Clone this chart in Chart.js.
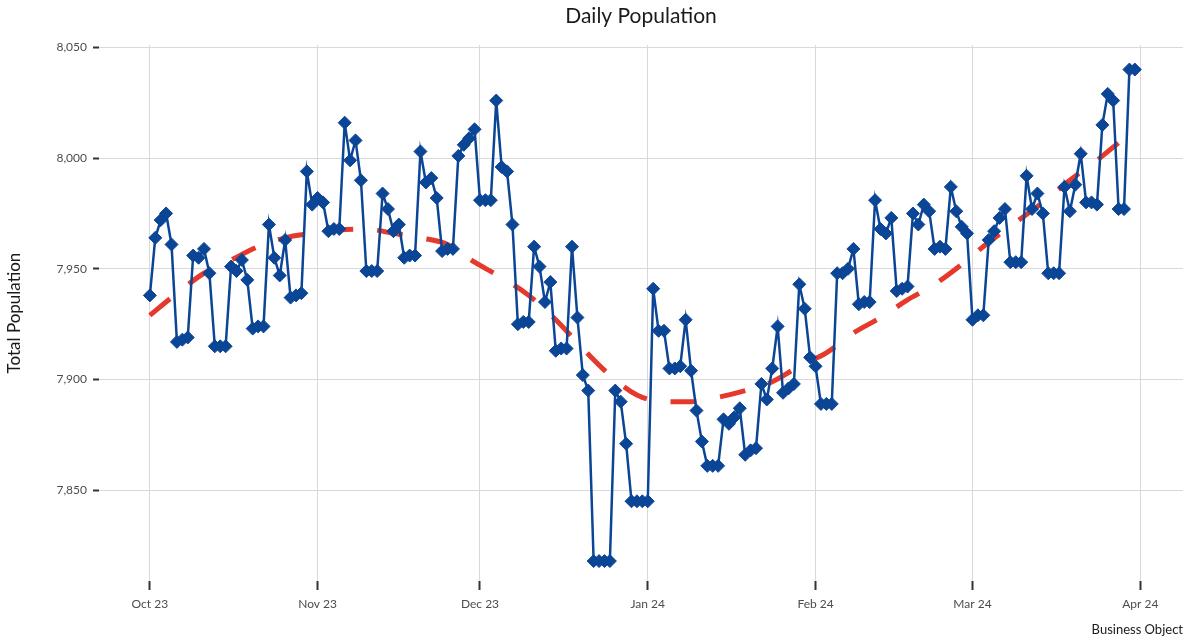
<!DOCTYPE html>
<html>
<head>
<meta charset="utf-8">
<title>Daily Population</title>
<script src="https://cdn.jsdelivr.net/npm/chart.js@4.4.1/dist/chart.umd.min.js"></script>
<style>
  html, body { margin: 0; padding: 0; background: #fff; }
  #chart { display: block; }
</style>
</head>
<body>
<canvas id="chart" width="1192" height="638"></canvas>
<script>
// Daily totals, one value per day from Oct 1 2023 to Mar 31 2024
const oct23 = [7938, 7964, 7972, 7975, 7961, 7917, 7918, 7919, 7956, 7955,
               7959, 7948, 7915, 7915, 7915, 7951, 7949, 7954, 7945, 7923,
               7924, 7924, 7970, 7955, 7947, 7963, 7937, 7938, 7939, 7994, 7979];
const nov23 = [7982, 7980, 7967, 7968, 7968, 8016, 7999, 8008, 7990, 7949,
               7949, 7949, 7984, 7977, 7967, 7970, 7955, 7956, 7956, 8003,
               7989, 7991, 7982, 7958, 7959, 7959, 8001, 8006, 8009, 8013];
const dec23 = [7981, 7981, 7981, 8026, 7996, 7994, 7970, 7925, 7926, 7926,
               7960, 7951, 7935, 7944, 7913, 7914, 7914, 7960, 7928, 7902,
               7895, 7818, 7818, 7818, 7818, 7895, 7890, 7871, 7845, 7845, 7845];
const jan24 = [7845, 7941, 7922, 7922, 7905, 7905, 7906, 7927, 7904, 7886,
               7872, 7861, 7861, 7861, 7882, 7880, 7883, 7887, 7866, 7868,
               7869, 7898, 7891, 7905, 7924, 7894, 7896, 7898, 7943, 7932, 7910];
const feb24 = [7906, 7889, 7889, 7889, 7948, 7948, 7950, 7959, 7934, 7935,
               7935, 7981, 7968, 7966, 7973, 7940, 7941, 7942, 7975, 7970,
               7979, 7976, 7959, 7960, 7959, 7987, 7976, 7969, 7966];
const mar24 = [7927, 7929, 7929, 7963, 7967, 7973, 7977, 7953, 7953, 7953,
               7992, 7977, 7984, 7975, 7948, 7948, 7948, 7987, 7976, 7988,
               8002, 7980, 7980, 7979, 8015, 8029, 8026, 7977, 7977, 8040, 8040];

const population = [].concat(oct23, nov23, dec23, jan24, feb24, mar24);

const trendDays = [0, 5, 10, 15, 20, 25, 30, 35, 40, 45, 50, 55, 60, 65, 70, 75, 80, 85, 90,
                   95, 100, 105, 110, 115, 120, 125, 130, 135, 140, 145, 150, 155, 160, 165,
                   170, 175, 180, 182];
const trendValues = [7929, 7939, 7948, 7954, 7960, 7964, 7966, 7967.5, 7968, 7966, 7964, 7961,
                     7953, 7946, 7938, 7927, 7914, 7902, 7893, 7890, 7890, 7892, 7895, 7899,
                     7906, 7912, 7921, 7928, 7936, 7943, 7952, 7962, 7971, 7980, 7990, 7999,
                     8009, 8013];

// Axis ticks
const monthStarts = [0, 31, 61, 92, 123, 152, 183];
const monthLabels = ['Oct 23', 'Nov 23', 'Dec 23', 'Jan 24', 'Feb 24', 'Mar 24', 'Apr 24'];
const yTicks = [7850, 7900, 7950, 8000, 8050];

const BLUE = '#0b4596';
const RED = '#e4392b';
const FONT = 'Lato, "Open Sans", sans-serif';

const ctx = document.getElementById('chart').getContext('2d');
new Chart(ctx, {
  type: 'line',
  data: {
    datasets: [
      {
        label: 'Total Population',
        data: population.map((v, i) => ({ x: i, y: v })),
        borderColor: BLUE,
        backgroundColor: BLUE,
        borderWidth: 2.5,
        pointStyle: 'rectRot',
        pointRadius: 6.5,
        pointBorderWidth: 1,
        pointBorderColor: BLUE,
        pointBackgroundColor: BLUE,
        tension: 0,
        order: 0
      },
      {
        label: 'Trend',
        data: trendDays.map((d, i) => ({ x: d, y: trendValues[i] })),
        borderColor: RED,
        borderWidth: 5,
        borderDash: [26, 24],
        borderCapStyle: 'butt',
        pointRadius: 0,
        cubicInterpolationMode: 'monotone',
        order: 1
      }
    ]
  },
  options: {
    responsive: false,
    animation: false,
    devicePixelRatio: 1,
    layout: { padding: { left: 0, right: 9, top: 0, bottom: 0 } },
    plugins: {
      legend: { display: false },
      tooltip: { enabled: false },
      title: {
        display: true,
        text: 'Daily Population',
        fullSize: false,
        color: '#1a1a1a',
        font: { family: FONT, size: 21, weight: 'normal' },
        padding: { top: 4, bottom: 16 }
      },
      subtitle: {
        display: true,
        text: 'Business Object',
        position: 'bottom',
        align: 'end',
        fullSize: false,
        color: '#1a1a1a',
        font: { family: FONT, size: 13 },
        padding: { top: 4, bottom: 0 }
      }
    },
    scales: {
      x: {
        type: 'linear',
        min: -9.4,
        max: 190.9,
        border: { display: false },
        grid: {
          color: '#d9d9d9',
          lineWidth: 1,
          tickColor: '#333',
          tickWidth: 2,
          tickLength: 9
        },
        afterBuildTicks: s => { s.ticks = monthStarts.map(v => ({ value: v })); },
        ticks: {
          autoSkip: false,
          maxRotation: 0,
          padding: 7,
          color: '#4d4d4d',
          font: { family: FONT, size: 12 },
          callback: (v, i) => monthLabels[i]
        }
      },
      y: {
        min: 7809,
        max: 8051,
        border: { display: false },
        grid: {
          color: '#d9d9d9',
          lineWidth: 1,
          tickColor: '#333',
          tickWidth: 2,
          tickLength: 6
        },
        afterBuildTicks: s => { s.ticks = yTicks.map(v => ({ value: v })); },
        afterFit: s => { s.width = 99; },
        title: {
          display: true,
          text: 'Total Population',
          color: '#1a1a1a',
          font: { family: FONT, size: 17 },
          padding: { top: 4, bottom: 0 }
        },
        ticks: {
          padding: 6,
          color: '#4d4d4d',
          font: { family: FONT, size: 12 },
          callback: v => v.toLocaleString('en-US')
        }
      }
    }
  }
});
</script>
</body>
</html>
